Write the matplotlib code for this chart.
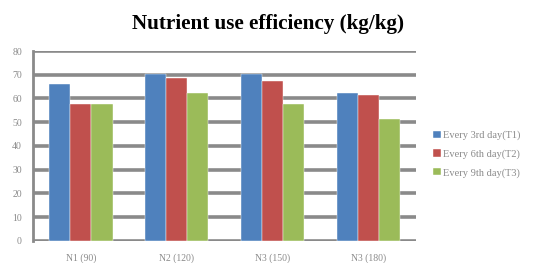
import matplotlib
matplotlib.use("Agg")
import matplotlib.pyplot as plt
import numpy as np

categories = ["N1 (90)", "N2 (120)", "N3 (150)", "N3 (180)"]
series_names = ["Every 3rd day(T1)", "Every 6th day(T2)", "Every 9th day(T3)"]
t1 = [66, 70.5, 70.5, 62.5]
t2 = [57.5, 68.5, 67.5, 61.5]
t3 = [57.5, 62.5, 57.5, 51.5]
yticks = [0, 10, 20, 30, 40, 50, 60, 70, 80]

colors = ["#4F81BD", "#C0504D", "#9BBB59"]
plt.rcParams['font.family'] = ['Liberation Serif', 'DejaVu Serif']

fig = plt.figure(figsize=(5.34, 2.63), dpi=100)
ax = fig.add_axes([0.062, 0.084, 0.717, 0.722])

x = np.arange(len(categories))
w = 0.22
for i, (vals, c, name) in enumerate(zip([t1, t2, t3], colors, series_names)):
    ax.bar(x + (i - 1) * w, vals, w, color=c, label=name, zorder=3,
           edgecolor='white', linewidth=0.3)

ax.set_xlim(-0.5, len(categories) - 0.5)
ax.set_ylim(0, 80)
ax.set_yticks(yticks)
for y in yticks:
    ax.axhline(y, color='#8a8a8a', lw=2.6, zorder=1, solid_capstyle='butt')
ax.set_xticks(x)
ax.set_xticklabels(categories)
for s in ['top', 'right', 'bottom']:
    ax.spines[s].set_visible(False)
ax.spines['left'].set_color('#8a8a8a')
ax.spines['left'].set_linewidth(2.0)
ax.tick_params(axis='both', length=0, labelsize=7, colors='#8a8a8a')
ax.tick_params(axis='x', pad=9)
ax.tick_params(axis='y', pad=8)

fig.text(0.502, 0.91, "Nutrient use efficiency (kg/kg)", ha='center', va='center',
         fontsize=15.2, fontweight='bold', color='black')

leg = ax.legend(loc='center left', bbox_to_anchor=(1.02, 0.457), frameon=False,
                fontsize=7.5, handlelength=0.75, handleheight=0.75, handletextpad=0.25,
                labelspacing=0.85, labelcolor='#8a8a8a')

fig.savefig("out.png", dpi=100, facecolor='white')
